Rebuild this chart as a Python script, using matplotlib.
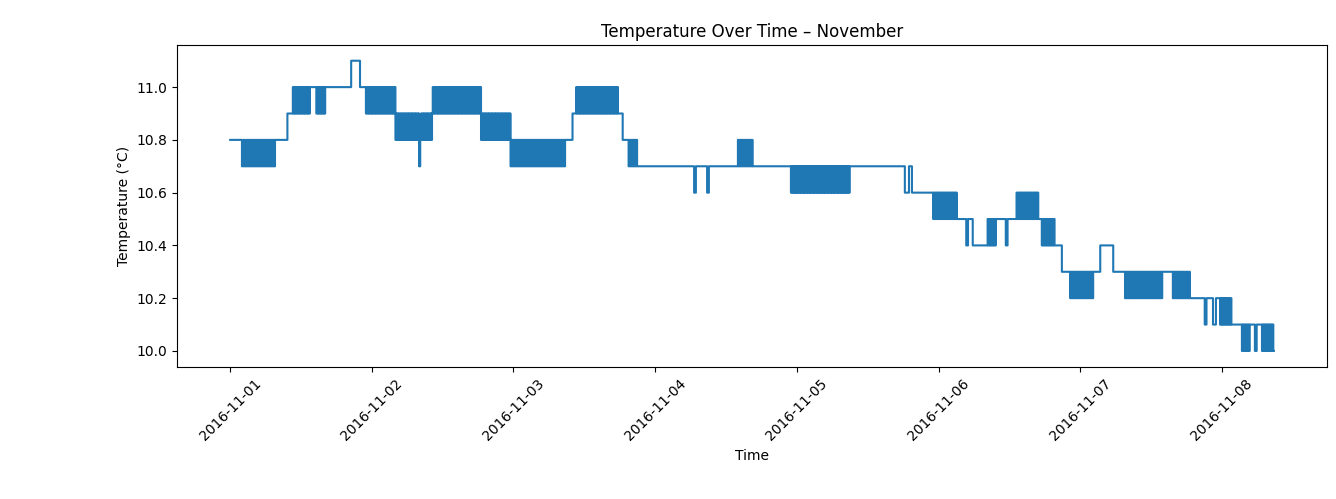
import matplotlib
matplotlib.use("Agg")
import matplotlib.pyplot as plt
import numpy as np
import pandas as pd

# Readings grouped into runs: start hour (from 2016-11-01 00:00),
# level (°C) and the level it kept flipping to (None = steady)
SEG_START = [0.0, 2.0, 5.6, 7.6, 9.7, 10.5, 13.6, 14.6, 16.1, 20.5, 22.0, 23.0,
             28.0, 32.0, 32.2, 34.2, 42.5, 47.5, 56.8, 58.0, 58.5, 65.8, 66.5,
             67.5, 69.0, 78.6, 78.9, 80.8, 81.1, 85.9, 88.5, 95.0, 105.0,
             114.3, 115.0, 115.5, 119.1, 123.1, 124.7, 125.0, 125.8, 128.2,
             129.7, 131.4, 131.7, 133.1, 136.9, 137.5, 139.7, 140.9, 142.3,
             146.2, 147.4, 149.6, 151.6, 157.9, 159.7, 162.6, 165.1, 165.4,
             166.5, 167.0, 167.7, 169.7, 171.4, 172.8, 173.6, 173.9, 174.8]
SEG_LEVEL = [10.8, 10.7, 10.7, 10.8, 10.9, 10.9, 11.0, 10.9, 11.0, 11.1, 11.0, 10.9,
             10.8, 10.7, 10.8, 10.9, 10.8, 10.7, 10.8, 10.9, 10.9, 10.9, 10.8,
             10.7, 10.7, 10.6, 10.7, 10.6, 10.7, 10.7, 10.7, 10.6, 10.7,
             10.6, 10.7, 10.6, 10.5, 10.5, 10.4, 10.5, 10.4, 10.4,
             10.5, 10.4, 10.5, 10.5, 10.5, 10.4, 10.4, 10.3, 10.2,
             10.3, 10.4, 10.3, 10.2, 10.3, 10.2, 10.2, 10.1, 10.2,
             10.1, 10.2, 10.1, 10.1, 10.0, 10.1, 10.0, 10.1, 10.0]
SEG_ALT = [None, 10.8, 10.8, None, None, 11.0, None, 11.0, None, None, None, 11.0,
           10.9, None, 10.9, 11.0, 10.9, 10.8, None, None, 11.0, None, None,
           10.8, None, None, None, None, None, 10.8, None, 10.7, None,
           None, None, None, 10.6, None, None, None, None, 10.5,
           None, None, None, 10.6, None, 10.5, None, None, 10.3,
           None, None, None, 10.3, None, 10.3, None, None, None,
           None, None, 10.2, None, 10.1, None, None, None, 10.1]
END_HOUR = 176.8

t, v = [], []
seg_end = SEG_START[1:] + [END_HOUR]
for s, e, lv, alt in zip(SEG_START, seg_end, SEG_LEVEL, SEG_ALT):
    if alt is None:
        t.append(s); v.append(lv)
    else:
        for k, h in enumerate(np.arange(s, e, 0.12)):
            t.append(h); v.append(lv if k % 2 == 0 else alt)
t.append(END_HOUR); v.append(v[-1])

times = pd.Timestamp("2016-11-01") + pd.to_timedelta(t, unit="h")

fig = plt.figure(figsize=(13.36, 4.99), dpi=100)
ax = fig.add_axes([0.1325, 0.265, 0.8607, 0.645])
ax.plot(times, v, color="#1f77b4", drawstyle="steps-post", lw=1.5)
ax.set_title("Temperature Over Time – November")
ax.set_xlabel("Time")
ax.set_ylabel("Temperature (°C)")
ax.set_ylim(9.94, 11.16)
ax.set_xlim(pd.Timestamp("2016-11-01") - pd.Timedelta(hours=9.0),
            pd.Timestamp("2016-11-01") + pd.Timedelta(hours=185.8))
ax.set_xticks(pd.date_range("2016-11-01", "2016-11-08", freq="D"))
ax.xaxis.set_major_formatter(matplotlib.dates.DateFormatter("%Y-%m-%d"))
plt.setp(ax.get_xticklabels(), rotation=45)
fig.savefig("out.png", dpi=100)
